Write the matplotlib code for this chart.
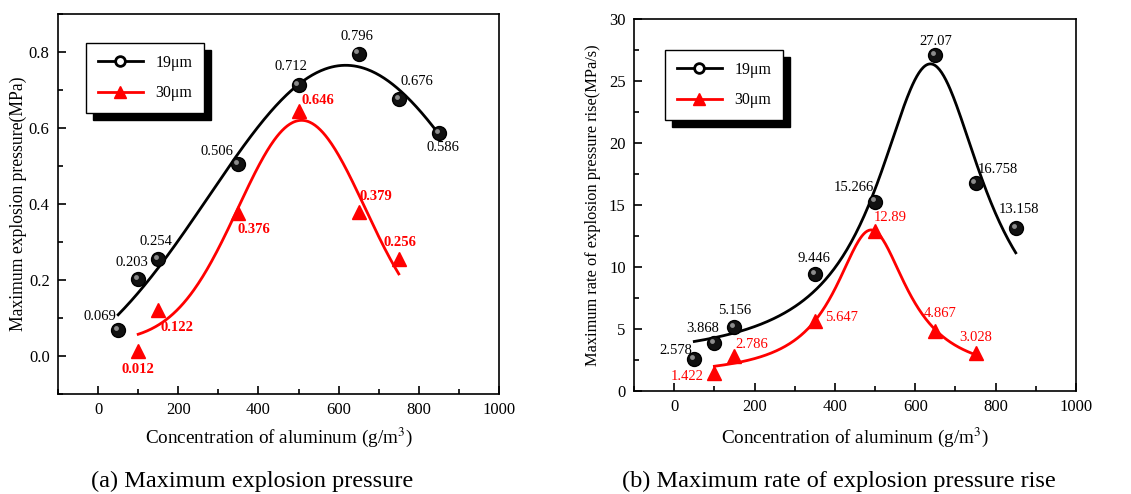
import numpy as np
import matplotlib
matplotlib.use("Agg")
import matplotlib.pyplot as plt
from matplotlib.ticker import MultipleLocator
from matplotlib.transforms import ScaledTranslation
from matplotlib.lines import Line2D

plt.rcParams['font.family'] = ['Liberation Serif', 'DejaVu Serif']
plt.rcParams['mathtext.fontset'] = 'stix'

# ---- data ----
conc_19 = [50, 100, 150, 350, 500, 650, 750, 850]
conc_30 = [100, 150, 350, 500, 650, 750]

pmax_19 = [0.069, 0.203, 0.254, 0.506, 0.712, 0.796, 0.676, 0.586]
pmax_30 = [0.012, 0.122, 0.376, 0.646, 0.379, 0.256]

rate_19 = [2.578, 3.868, 5.156, 9.446, 15.266, 27.07, 16.758, 13.158]
rate_30 = [1.422, 2.786, 5.647, 12.89, 4.867, 3.028]

series_labels = ['19\u03bcm', '30\u03bcm']
xlabel = 'Concentration of aluminum (g/m$^3$)'
ylabel_a = 'Maximum explosion pressure(MPa)'
ylabel_b = 'Maximum rate of explosion pressure rise(MPa/s)'
caption_a = '(a) Maximum explosion pressure'
caption_b = '(b) Maximum rate of explosion pressure rise'

# label offsets (pixels) for each value label
off_a19 = [(-18, 13), (-6, 16), (-2, 18), (-21, 12), (-8, 19), (-2, 17), (18, 18), (4, -14)]
off_a30 = [(0, -18), (19, -18), (15, -16), (19, 10), (17, 16), (1, 16)]
off_b19 = [(-18, 9), (-12, 15), (0, 17), (-1, 15), (-21, 14), (0, 14), (22, 14), (3, 18)]
off_b30 = [(-27, -3), (17, 12), (27, 3), (15, 14), (5, 17), (0, 16)]


def peak_fit(x, y, shape):
    """Least-squares fit of y0 + A*peak(x; xc, w); grid over xc, w, linear in y0, A."""
    x = np.asarray(x, float)
    y = np.asarray(y, float)

    def kernel(t, xc, w):
        if shape == 'gauss':
            return np.exp(-(t - xc) ** 2 / (2 * w ** 2))
        return 1.0 / (1.0 + ((t - xc) / w) ** 2)

    best = None
    for xc in np.linspace(300, 900, 241):
        for w in np.linspace(30, 600, 286):
            g = kernel(x, xc, w)
            M = np.column_stack([np.ones_like(x), g])
            coef, *_ = np.linalg.lstsq(M, y, rcond=None)
            r = np.sum((M @ coef - y) ** 2)
            if best is None or r < best[0]:
                best = (r, xc, w, coef)
    _, xc, w, (y0, A) = best
    return lambda t: y0 + A * kernel(t, xc, w)


fig = plt.figure(figsize=(11.31, 4.94), dpi=100)
ax_a = fig.add_axes([0.0513, 0.2024, 0.3899, 0.7692])
ax_b = fig.add_axes([0.5606, 0.2085, 0.3908, 0.7530])


def draw_panel(ax, y19, y30, o19, o30, fmt, shape, ylim, ymaj, ymin,
               ylabel, ylabel_size, ylab_x, xlab_y, leg_anchor, red_bold):
    x19 = np.array(conc_19, float)
    x30 = np.array(conc_30, float)
    f19 = peak_fit(x19, y19, shape)
    f30 = peak_fit(x30, y30, shape)
    t19 = np.linspace(x19.min(), x19.max(), 300)
    t30 = np.linspace(x30.min(), x30.max(), 300)
    ax.plot(t19, f19(t19), color='black', lw=2.0, zorder=2)
    ax.plot(t30, f30(t30), color='red', lw=2.0, zorder=2)

    # shaded balls
    ax.plot(x19, y19, 'o', ms=10, mfc='#111111', mec='black', zorder=3)
    hl = ax.transData + ScaledTranslation(-1.6 / 72, 1.6 / 72, fig.dpi_scale_trans)
    ax.plot(x19, y19, 'o', ms=3.5, mfc='#9a9a9a', mec='none', alpha=0.9,
            transform=hl, zorder=4)
    ax.plot(x30, y30, '^', ms=10, mfc='red', mec='red', zorder=3)

    for xv, yv, (dx, dy) in zip(x19, y19, o19):
        ax.annotate(fmt(yv), (xv, yv), xytext=(dx, dy), textcoords='offset pixels',
                    ha='center', va='center', fontsize=10.5, color='black')
    for xv, yv, (dx, dy) in zip(x30, y30, o30):
        ax.annotate(fmt(yv), (xv, yv), xytext=(dx, dy), textcoords='offset pixels',
                    ha='center', va='center', fontsize=10.5, color='red',
                    fontweight='bold' if red_bold else 'normal')

    ax.set_xlim(-100, 1000)
    ax.set_ylim(*ylim)
    ax.xaxis.set_major_locator(MultipleLocator(200))
    ax.xaxis.set_minor_locator(MultipleLocator(100))
    ax.yaxis.set_major_locator(MultipleLocator(ymaj))
    ax.yaxis.set_minor_locator(MultipleLocator(ymin))
    ax.tick_params(which='both', direction='in', top=False, right=False,
                   labelsize=12, width=1.2, pad=6)
    ax.tick_params(which='major', length=6)
    ax.tick_params(which='minor', length=3.5)
    for s in ax.spines.values():
        s.set_linewidth(1.2)
    ax.set_xlabel(xlabel, fontsize=13.8, va='center')
    ax.xaxis.set_label_coords(0.5, xlab_y)
    ax.set_ylabel(ylabel, fontsize=ylabel_size, va='center')
    ax.yaxis.set_label_coords(ylab_x, 0.5)

    handles = [
        Line2D([], [], color='black', lw=2, marker='o', ms=7, mfc='white',
               mec='black', mew=2),
        Line2D([], [], color='red', lw=2, marker='^', ms=9, mfc='red', mec='red'),
    ]
    leg = ax.legend(handles, series_labels, loc='upper left',
                    bbox_to_anchor=leg_anchor, borderaxespad=0,
                    fontsize=11.5, handlelength=2.8,
                    handletextpad=0.8, borderpad=0.75, labelspacing=0.9,
                    fancybox=False, framealpha=1, edgecolor='black',
                    shadow={'ox': 5, 'oy': -5, 'color': 'black', 'alpha': 1})
    leg.get_frame().set_linewidth(1.0)


draw_panel(ax_a, pmax_19, pmax_30, off_a19, off_a30,
           lambda v: f'{v:.3f}', 'gauss',
           (-0.1, 0.9), 0.2, 0.1, ylabel_a, 12.7, -0.091, -0.113,
           (0.0635, 0.924), True)
draw_panel(ax_b, rate_19, rate_30, off_b19, off_b30,
           lambda v: f'{v:g}', 'lorentz',
           (0, 30), 5, 2.5, ylabel_b, 11.8, -0.093, -0.124,
           (0.070, 0.917), False)

fig.text(252 / 1131, 1 - 481 / 494, caption_a, ha='center', va='center', fontsize=17.5)
fig.text(839 / 1131, 1 - 481 / 494, caption_b, ha='center', va='center', fontsize=17.5)

fig.savefig('out.png', dpi=100)
